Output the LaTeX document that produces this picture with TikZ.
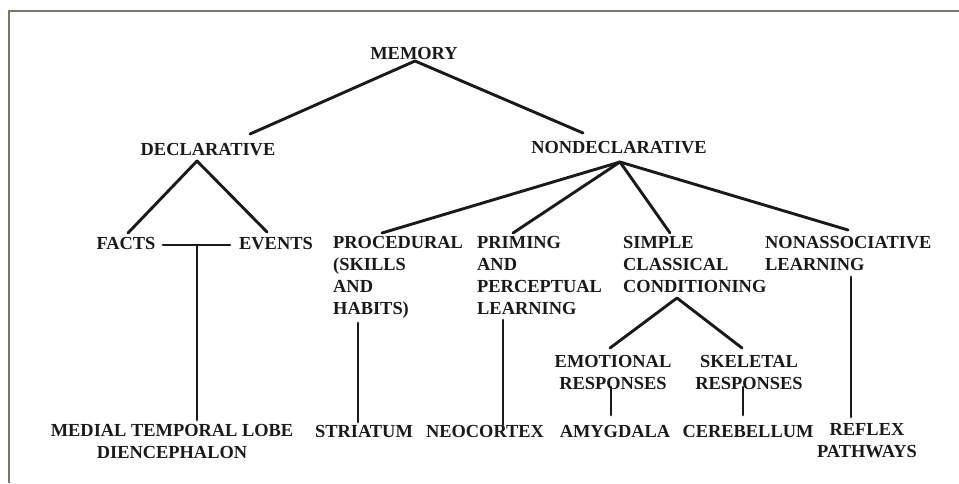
\documentclass[tikz,border=0pt]{standalone}
\usepackage{fontspec}
\setmainfont{Liberation Serif}
\begin{document}
\begin{tikzpicture}[x=1pt,y=1pt,
  lbl/.style={inner sep=0pt, text=ink, font=\fontsize{18.4}{22}\selectfont\bfseries},
  lblc/.style={lbl, align=center, anchor=north},
  lbll/.style={lbl, align=left, anchor=north west},
  conn/.style={draw=ink, line width=2.9pt, line cap=round}]
\definecolor{ink}{HTML}{1A1A1A}
\definecolor{framecol}{HTML}{7A7568}
\useasboundingbox (0,0) rectangle (959,-483);
\fill[white] (0,0) rectangle (959,-483);
\draw[framecol, line width=2pt] (8.5,-483) -- (8.5,-10.5) -- (959,-10.5);

% nodes
\node[lbl, anchor=base] (mem) at (414,-59.5) {MEMORY};
\node[lbl, anchor=base] (decl) at (208,-155.5) {DECLARATIVE};
\node[lbl, anchor=base] (nondecl) at (619,-153.5) {NONDECLARATIVE};
\node[lbl, anchor=base] (facts) at (126,-249.5) {FACTS};
\node[lbl, anchor=base] (events) at (276,-249.5) {EVENTS};
\node[lblc] (medial) at (172,-424.5) {MEDIAL TEMPORAL LOBE\\DIENCEPHALON};
\node[lbll] (proc) at (333,-236.5) {PROCEDURAL\\(SKILLS\\AND\\HABITS)};
\node[lbll] (priming) at (477,-236.5) {PRIMING\\AND\\PERCEPTUAL\\LEARNING};
\node[lbll] (simple) at (623,-236.5) {SIMPLE\\CLASSICAL\\CONDITIONING};
\node[lbll] (nonassoc) at (765,-236.5) {NONASSOCIATIVE\\LEARNING};
\node[lblc] (emot) at (613,-355.5) {EMOTIONAL\\RESPONSES};
\node[lblc] (skel) at (749,-355.5) {SKELETAL\\RESPONSES};
\node[lbl, anchor=base] (striatum) at (364,-437.5) {STRIATUM};
\node[lbl, anchor=base] (neocortex) at (485,-437.5) {NEOCORTEX};
\node[lbl, anchor=base] (amyg) at (615,-437.5) {AMYGDALA};
\node[lbl, anchor=base] (cereb) at (748,-437.5) {CEREBELLUM};
\node[lblc] (reflex) at (867,-423.5) {REFLEX\\PATHWAYS};
\coordinate (fe) at (197,-245);

% connectors
\draw[conn] ([shift={(1,-1.5)}]mem.base) -- ([shift={(42,21.5)}]decl.base);
\draw[conn] ([shift={(1,-1.5)}]mem.base) -- ([shift={(-36,20.5)}]nondecl.base);
\draw[conn] ([shift={(-11,-5.5)}]decl.base) -- ([shift={(2,16.5)}]facts.base);
\draw[conn] ([shift={(-11,-5.5)}]decl.base) -- ([shift={(-9,17.5)}]events.base);
\draw[conn] ([shift={(37,4.5)}]facts.base) -- ([shift={(-46,4.5)}]events.base);
\draw[conn] (fe) -- ([shift={(25,4.5)}]medial.north);
\draw[conn] ([shift={(1,-8.5)}]nondecl.base) -- ([shift={(49,3.5)}]proc.north west);
\draw[conn] ([shift={(1,-8.5)}]nondecl.base) -- ([shift={(36,3.5)}]priming.north west);
\draw[conn] ([shift={(1,-8.5)}]nondecl.base) -- ([shift={(47,3.5)}]simple.north west);
\draw[conn] ([shift={(1,-8.5)}]nondecl.base) -- ([shift={(83,6.5)}]nonassoc.north west);
\draw[conn] ([shift={(25,-86.5)}]proc.north west) -- ([shift={(-6,15.5)}]striatum.base);
\draw[conn] ([shift={(26,-83.5)}]priming.north west) -- ([shift={(18,12.5)}]neocortex.base);
\draw[conn] ([shift={(54,-61.5)}]simple.north west) -- ([shift={(-3,7.5)}]emot.north);
\draw[conn] ([shift={(54,-61.5)}]simple.north west) -- ([shift={(-7,7.5)}]skel.north);
\draw[conn] ([shift={(-2,-31.5)}]emot.north) -- ([shift={(-4,22.5)}]amyg.base);
\draw[conn] ([shift={(-6,-31.5)}]skel.north) -- ([shift={(-5,22.5)}]cereb.base);
\draw[conn] ([shift={(86,-40.5)}]nonassoc.north west) -- ([shift={(-16,6.5)}]reflex.north);
\end{tikzpicture}
\end{document}
